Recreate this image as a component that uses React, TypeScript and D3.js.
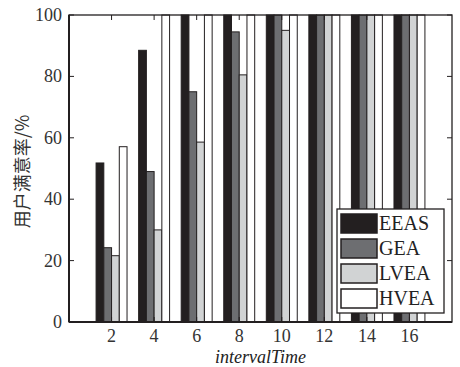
import React from "react";
import * as d3 from "d3";

const categories = [2, 4, 6, 8, 10, 12, 14, 16];
const seriesNames = ["EEAS", "GEA", "LVEA", "HVEA"];
const eeas = [51.8, 88.5, 100, 100, 100, 100, 100, 100];
const gea = [24.2, 49, 75, 94.5, 100, 100, 100, 100];
const lvea = [21.6, 30, 58.6, 80.5, 95, 100, 100, 100];
const hvea = [57.1, 100, 100, 100, 100, 100, 100, 100];
const yTicks = [0, 20, 40, 60, 80, 100];
const colors = ["#231f20", "#6d6e71", "#d1d3d4", "#ffffff"];

const W = 460;
const H = 367;
const L = 69, R = 452, T = 15, B = 322;

const serif = { fontFamily: '"Liberation Serif", "DejaVu Serif", serif' };

export default function App() {
  const series = [eeas, gea, lvea, hvea];
  const x = d3.scaleLinear().domain([0, 18]).range([L, R]);
  const y = d3.scaleLinear().domain([0, 100]).range([B, T]);
  const groupW = Math.min(0.8, 4 / (4 + 1.5)) * 2; // data units
  const barW = groupW / 4;

  return (
    <svg width={W} height={H} style={{ position: "absolute", left: 0, top: 0, background: "#fff" }}>
      <rect x={0} y={0} width={W} height={H} fill="#fff" />
      {series.map((vals, si) =>
        vals.map((v, ci) => {
          const x0 = x(categories[ci] - groupW / 2 + si * barW);
          const x1 = x(categories[ci] - groupW / 2 + (si + 1) * barW);
          return (
            <rect
              key={`${si}-${ci}`}
              x={x0}
              y={y(v)}
              width={x1 - x0}
              height={y(0) - y(v)}
              fill={colors[si]}
              stroke="#231f20"
              strokeWidth={1}
            />
          );
        })
      )}
      <rect x={L} y={T} width={R - L} height={B - T} fill="none" stroke="#231f20" strokeWidth={1.3} />
      <line x1={L} x2={L} y1={T} y2={B} stroke="#231f20" strokeWidth={2} />
      <line x1={L} x2={R} y1={B} y2={B} stroke="#231f20" strokeWidth={2} />
      {yTicks.map((t) => (
        <g key={`y${t}`}>
          <line x1={L} x2={L + 5} y1={y(t)} y2={y(t)} stroke="#231f20" />
          <line x1={R} x2={R - 5} y1={y(t)} y2={y(t)} stroke="#231f20" />
          <text x={L - 7} y={y(t) + 6} textAnchor="end" style={serif} fontSize={18} fill="#333">
            {t}
          </text>
        </g>
      ))}
      {categories.map((c) => (
        <g key={`x${c}`}>
          <line x1={x(c)} x2={x(c)} y1={B} y2={B - 5} stroke="#231f20" />
          <line x1={x(c)} x2={x(c)} y1={T} y2={T + 5} stroke="#231f20" />
          <text x={x(c)} y={342} textAnchor="middle" style={serif} fontSize={18} fill="#333">
            {c}
          </text>
        </g>
      ))}
      <text x={(L + R) / 2} y={363} textAnchor="middle" style={serif} fontStyle="italic" fontSize={18} fill="#222">
        intervalTime
      </text>
      <text
        transform={`translate(29, ${(110 + 233) / 2}) rotate(-90)`}
        textAnchor="middle"
        style={{ fontFamily: '"Noto Sans CJK SC", sans-serif' }}
        fontSize={18}
        fill="#333"
      >
        用户满意率/%
      </text>
      <rect x={337} y={209} width={107} height={104} fill="#fff" stroke="#231f20" strokeWidth={1.3} />
      {seriesNames.map((n, i) => (
        <g key={n}>
          <rect x={341} y={214 + i * 25} width={36} height={19} fill={colors[i]} stroke="#231f20" strokeWidth={1.5} />
          <text x={379} y={214 + i * 25 + 16} style={serif} fontSize={20} fill="#222">
            {n}
          </text>
        </g>
      ))}
    </svg>
  );
}
